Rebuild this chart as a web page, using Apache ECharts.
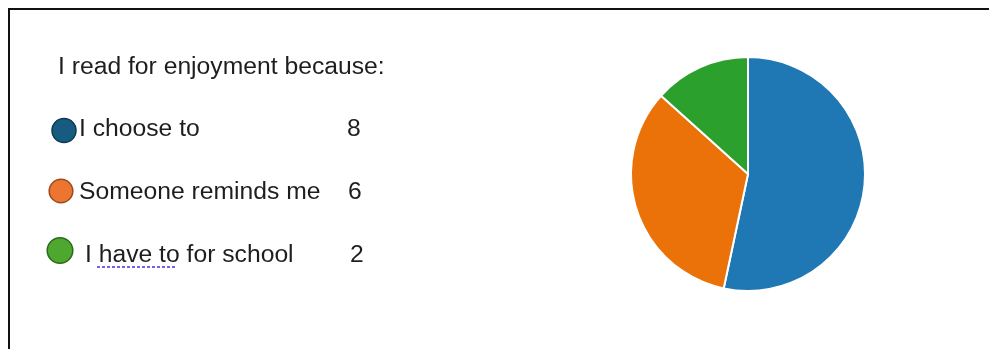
<!DOCTYPE html>
<html>
<head>
<meta charset="utf-8">
<style>
  html, body { margin: 0; padding: 0; background: #fff; }
  #chart { width: 989px; height: 349px; }
</style>
<script src="https://cdn.jsdelivr.net/npm/echarts@6/dist/echarts.min.js"></script>
</head>
<body>
<div id="chart"></div>
<script>
// data
var title = 'I read for enjoyment because:';
var categories = ['I choose to', 'Someone reminds me', 'I have to for school'];
var pieValues = [8, 5, 2];          // slice sizes as drawn in the pie
var countLabels = ['8', '6', '2'];  // numbers typed next to the legend

var sliceColors = ['#1f77b4', '#ea7209', '#2ca02c'];
var dotFill = ['#175b80', '#ec7532', '#4ea72e'];
var dotStroke = ['#0d3a54', '#9c4a1d', '#2d6a1b'];

// layout of the hand made legend
var rows = [
    { dotX: 64, dotY: 130.5, r: 12, textX: 79, y: 129.5, numX: 347 },
    { dotX: 61, dotY: 191, r: 11.8, textX: 79, y: 192, numX: 348 },
    { dotX: 60, dotY: 250.5, r: 12.8, textX: 85, y: 255, numX: 350 }
];
var font = '"Liberation Sans", Arial, sans-serif';
var fontSize = 24.7;

var chart = echarts.init(document.getElementById('chart'));

var graphic = [
    {
        type: 'rect',
        shape: { x: 9, y: 9, width: 1000, height: 400 },
        style: { fill: 'none', stroke: '#111', lineWidth: 2 },
        silent: true
    },
    {
        type: 'text',
        x: 58, y: 67.5,
        style: { text: title, fill: '#1e1e1e', fontSize: fontSize, fontFamily: font, verticalAlign: 'middle' }
    }
];

categories.forEach(function (name, i) {
    var row = rows[i];
    graphic.push({
        type: 'circle',
        shape: { cx: row.dotX, cy: row.dotY, r: row.r },
        style: { fill: dotFill[i], stroke: dotStroke[i], lineWidth: 1.5 }
    });
    graphic.push({
        type: 'text',
        x: row.textX, y: row.y,
        style: { text: name, fill: '#1e1e1e', fontSize: fontSize, fontFamily: font, verticalAlign: 'middle' }
    });
    graphic.push({
        type: 'text',
        x: row.numX, y: row.y,
        style: { text: countLabels[i], fill: '#1e1e1e', fontSize: fontSize, fontFamily: font, verticalAlign: 'middle' }
    });
});

// spell check squiggle under "have to"
graphic.push({
    type: 'line',
    shape: { x1: 97, y1: 267, x2: 177, y2: 267 },
    style: { stroke: '#7a5cf2', lineWidth: 2, lineDash: [3, 2] }
});

var option = {
    backgroundColor: '#fff',
    animation: false,
    graphic: graphic,
    series: [
        {
            type: 'pie',
            center: [748, 174],
            radius: 117,
            startAngle: 90,
            clockwise: true,
            label: { show: false },
            labelLine: { show: false },
            itemStyle: { borderColor: '#fff', borderWidth: 2 },
            emphasis: { disabled: true },
            data: categories.map(function (name, i) {
                return { name: name, value: pieValues[i], itemStyle: { color: sliceColors[i] } };
            })
        }
    ]
};
chart.setOption(option);
</script>
</body>
</html>
